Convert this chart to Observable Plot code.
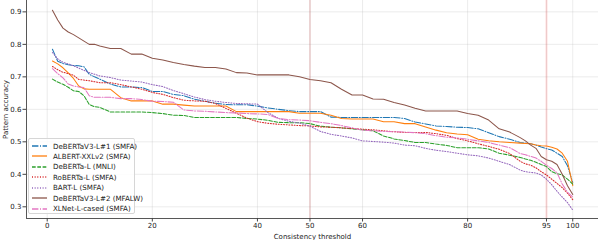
<!DOCTYPE html>
<html>
<head>
<meta charset="utf-8">
<script src="https://cdn.jsdelivr.net/npm/d3@7"></script>
<script src="https://cdn.jsdelivr.net/npm/@observablehq/plot@0.6"></script>
<style>
  html, body { margin: 0; padding: 0; background: #fff; }
  #wrap { position: relative; width: 598px; height: 240px; font-family: "DejaVu Sans", sans-serif; }
  #legend { position: absolute; left: 28px; top: 138px; width: 107px; height: 76px; box-sizing: border-box;
    border: 1px solid #d6d6d6; border-radius: 2px; background: rgba(255,255,255,0.85); }
  .row { position: absolute; left: 0; height: 10px; display: flex; align-items: center; font-size: 7.1px; color: #222; white-space: nowrap; }
  .row svg { margin-left: 3px; margin-right: 6px; }
</style>
</head>
<body>
<div id="wrap"></div>
<script>
const thresholds = [1,2,3,4,5,6,7,8,9,10,12,14,16,18,20,22,24,26,28,30,32,34,36,38,40,42,44,46,48,50,52,54,56,58,60,62,64,66,68,70,72,74,76,78,80,82,84,86,88,90,91,92,93,94,95,96,97,98,99,100];

const debertaV3L1 = [0.785,0.748,0.741,0.737,0.735,0.734,0.731,0.708,0.700,0.693,0.678,0.669,0.669,0.667,0.655,0.655,0.646,0.642,0.631,0.625,0.619,0.615,0.614,0.614,0.610,0.604,0.600,0.596,0.593,0.593,0.593,0.576,0.575,0.575,0.575,0.575,0.575,0.575,0.572,0.561,0.555,0.549,0.547,0.545,0.544,0.540,0.528,0.516,0.508,0.498,0.496,0.494,0.490,0.484,0.479,0.475,0.465,0.455,0.426,0.375];
const albertXXLv2 = [0.749,0.740,0.728,0.712,0.695,0.672,0.663,0.662,0.662,0.662,0.662,0.636,0.626,0.626,0.626,0.616,0.616,0.613,0.610,0.610,0.610,0.610,0.593,0.593,0.593,0.593,0.593,0.593,0.588,0.588,0.588,0.582,0.572,0.570,0.570,0.570,0.562,0.562,0.556,0.556,0.546,0.536,0.528,0.524,0.522,0.508,0.503,0.500,0.498,0.496,0.495,0.494,0.490,0.488,0.487,0.483,0.478,0.465,0.440,0.365];
const debertaLMNLI = [0.693,0.684,0.677,0.668,0.657,0.655,0.642,0.615,0.608,0.606,0.592,0.592,0.592,0.592,0.590,0.587,0.582,0.581,0.575,0.575,0.575,0.575,0.575,0.572,0.570,0.566,0.560,0.559,0.559,0.556,0.548,0.545,0.543,0.540,0.537,0.534,0.518,0.509,0.504,0.498,0.498,0.493,0.489,0.482,0.482,0.482,0.478,0.465,0.459,0.452,0.447,0.443,0.437,0.430,0.424,0.408,0.402,0.398,0.385,0.370];
const robertaL = [0.732,0.722,0.714,0.710,0.705,0.692,0.690,0.688,0.685,0.682,0.682,0.676,0.669,0.662,0.652,0.646,0.636,0.628,0.626,0.625,0.618,0.603,0.588,0.573,0.562,0.557,0.554,0.552,0.550,0.549,0.546,0.545,0.543,0.541,0.539,0.537,0.534,0.531,0.529,0.529,0.529,0.525,0.520,0.510,0.503,0.494,0.486,0.477,0.464,0.440,0.432,0.428,0.420,0.408,0.398,0.385,0.372,0.359,0.342,0.322];
const bartL = [0.775,0.755,0.745,0.740,0.734,0.727,0.720,0.713,0.708,0.703,0.698,0.690,0.687,0.684,0.676,0.670,0.658,0.648,0.638,0.630,0.625,0.621,0.618,0.617,0.616,0.590,0.572,0.563,0.558,0.548,0.532,0.523,0.518,0.512,0.503,0.501,0.499,0.496,0.490,0.488,0.480,0.474,0.470,0.465,0.460,0.457,0.450,0.440,0.430,0.413,0.408,0.406,0.404,0.398,0.385,0.368,0.348,0.330,0.313,0.290];
const debertaV3L2 = [0.905,0.875,0.850,0.838,0.830,0.820,0.810,0.800,0.800,0.795,0.787,0.787,0.770,0.770,0.757,0.752,0.744,0.738,0.733,0.729,0.729,0.724,0.713,0.712,0.706,0.706,0.706,0.706,0.700,0.692,0.688,0.682,0.662,0.644,0.644,0.632,0.631,0.621,0.613,0.603,0.595,0.595,0.595,0.595,0.587,0.582,0.567,0.540,0.530,0.513,0.503,0.490,0.480,0.455,0.445,0.440,0.430,0.400,0.365,0.338];
const xlnetLCased = [0.725,0.710,0.697,0.678,0.672,0.669,0.667,0.642,0.637,0.637,0.637,0.633,0.633,0.630,0.625,0.624,0.622,0.598,0.595,0.594,0.592,0.590,0.589,0.587,0.586,0.584,0.572,0.568,0.567,0.565,0.560,0.556,0.550,0.543,0.536,0.534,0.532,0.531,0.530,0.528,0.525,0.519,0.514,0.512,0.508,0.503,0.498,0.490,0.482,0.464,0.460,0.455,0.450,0.440,0.428,0.418,0.405,0.370,0.345,0.330];

const seriesNames = ["DeBERTaV3-L#1 (SMFA)","ALBERT-XXLv2 (SMFA)","DeBERTa-L (MNLI)","RoBERTa-L (SMFA)","BART-L (SMFA)","DeBERTaV3-L#2 (MFALW)","XLNet-L-cased (SMFA)"];
const seriesValues = [debertaV3L1, albertXXLv2, debertaLMNLI, robertaL, bartL, debertaV3L2, xlnetLCased];
const seriesColors = ["#1f77b4","#ff7f0e","#2ca02c","#d62728","#9467bd","#8c564b","#e377c2"];
const seriesDashes = ["6.4,1.6,1,1.6", null, "3.7,1.6", "1,1.65", "1,1.65", null, "6.4,1.6,1,1.6"];

const xTicks = [0,20,40,50,60,80,95,100];
const yTicks = [0.3,0.4,0.5,0.6,0.7,0.8,0.9];
const vLines = [50, 95];
const xDomain = [-3.94, 104.9];
const yDomain = [0.264, 0.935];
const xLabel = "Consistency threshold";
const yLabel = "Pattern accuracy";

const lineMarks = seriesNames.map((name, k) => {
  const data = thresholds.map((t, i) => ({t, v: seriesValues[k][i]}));
  return Plot.line(data, {x: "t", y: "v", stroke: seriesColors[k], strokeWidth: 1.05,
    strokeDasharray: seriesDashes[k] || undefined, strokeLinejoin: "round"});
});

const chart = Plot.plot({
  width: 598, height: 240,
  marginLeft: 26, marginRight: 0, marginTop: 0, marginBottom: 22,
  style: {fontFamily: "DejaVu Sans, sans-serif", fontSize: "7px", color: "#222", background: "white"},
  x: {domain: xDomain},
  y: {domain: yDomain},
  marks: [
    Plot.gridX(xTicks, {stroke: "#b0b0b0", strokeOpacity: 0.3, strokeWidth: 0.8}),
    Plot.gridY(yTicks, {stroke: "#b0b0b0", strokeOpacity: 0.3, strokeWidth: 0.8}),
    Plot.ruleX([vLines[0]], {stroke: "#c04040", strokeOpacity: 0.45, strokeWidth: 0.8}),
    Plot.ruleX([vLines[1]], {stroke: "red", strokeOpacity: 0.14, strokeWidth: 2}),
    ...lineMarks,
    Plot.ruleX([xDomain[0]], {stroke: "#444", strokeWidth: 0.9}),
    Plot.ruleY([yDomain[0]], {stroke: "#444", strokeWidth: 0.9}),
    Plot.axisX(xTicks, {tickSize: 3.5, tickPadding: 1.5, stroke: "#444", fill: "#222", label: xLabel, labelAnchor: "center", labelArrow: "none", labelOffset: 20}),
    Plot.axisY(yTicks, {tickSize: 3.5, tickPadding: 1.5, stroke: "#444", fill: "#222", tickFormat: d3.format(".1f"), label: yLabel, labelAnchor: "center", labelArrow: "none", labelOffset: 23})
  ]
});

const wrap = document.getElementById("wrap");
wrap.appendChild(chart);

const legend = d3.select(wrap).append("div").attr("id", "legend");
seriesNames.forEach((name, k) => {
  const row = legend.append("div").attr("class", "row").style("top", (2 + k * 10.45) + "px");
  const s = row.append("svg").attr("width", 15).attr("height", 6);
  s.append("line").attr("x1", 0).attr("x2", 15).attr("y1", 3).attr("y2", 3)
    .attr("stroke", seriesColors[k]).attr("stroke-width", 1.3)
    .attr("stroke-dasharray", seriesDashes[k] || null);
  row.append("span").text(name);
});
</script>
</body>
</html>
